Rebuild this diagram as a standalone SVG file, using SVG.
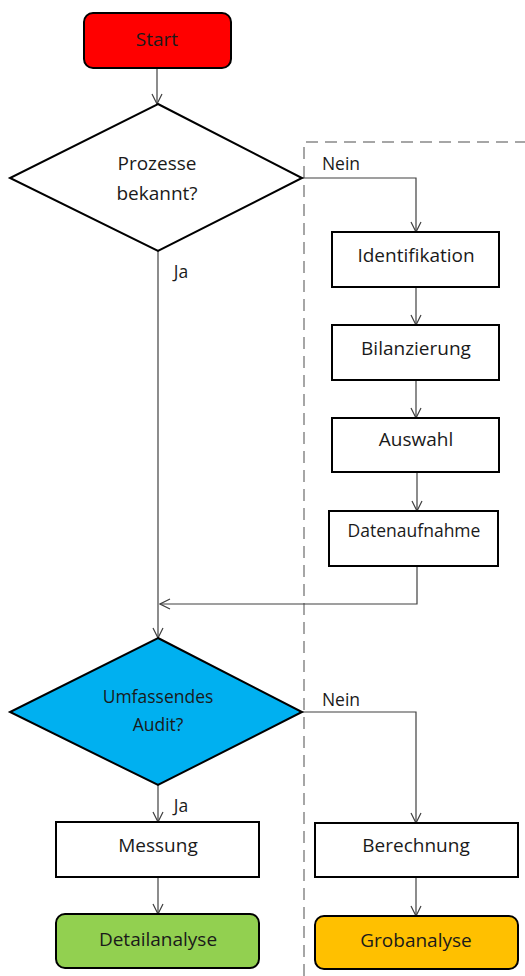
<svg xmlns="http://www.w3.org/2000/svg" width="525" height="976" viewBox="0 0 525 976">
<style>
.n{stroke:#000;stroke-width:2}
.t{font-family:"Open Sans","Liberation Sans",Arial,sans-serif;font-size:19px;fill:#1a1a1a;text-anchor:middle}
.s{font-size:17.5px}
.c{fill:none;stroke:#404040;stroke-width:1.2}
.d{fill:none;stroke:#a6a6a6;stroke-width:2;stroke-dasharray:12,7}
</style>
<defs>
<marker id="a" viewBox="0 0 12 12" refX="11" refY="6" markerWidth="12" markerHeight="12" markerUnits="userSpaceOnUse" orient="auto">
<path d="M1,1 L11,6 L1,11" fill="none" stroke="#404040" stroke-width="1.2"/>
</marker>
</defs>
<rect width="525" height="976" fill="#fff"/>
<path class="d" d="M304,976 V142 H525"/>
<g id="connectors">
<path class="c" marker-end="url(#a)" d="M157,68 V104"/>
<path class="c" marker-end="url(#a)" d="M302,178 H416 V232"/>
<path class="c" marker-end="url(#a)" d="M416,287 V325"/>
<path class="c" marker-end="url(#a)" d="M416,380 V418"/>
<path class="c" marker-end="url(#a)" d="M417,472 V511"/>
<path class="c" marker-end="url(#a)" d="M417,566 V604 H160"/>
<path class="c" marker-end="url(#a)" d="M158,251 V638"/>
<path class="c" marker-end="url(#a)" d="M302,712 H416 V823"/>
<path class="c" marker-end="url(#a)" d="M416,877 V916"/>
<path class="c" marker-end="url(#a)" d="M158,785 V822"/>
<path class="c" marker-end="url(#a)" d="M158,877 V914"/>
<text class="t s" x="341" y="170">Nein</text>
<text class="t s" x="181" y="278">Ja</text>
<text class="t s" x="341" y="706">Nein</text>
<text class="t s" x="181" y="812">Ja</text>
</g>
<g id="start"><rect class="n" x="84" y="13" width="147" height="55" rx="9" fill="#ff0000"/><text class="t" x="157" y="46">Start</text></g>
<g id="prozesse"><path class="n" d="M158,104 L302,178 L158,251 L10,178 Z" fill="#fff"/><text class="t" x="157" y="170">Prozesse</text><text class="t" x="157" y="200">bekannt?</text></g>
<g id="identifikation"><rect class="n" x="332" y="232" width="167" height="55" fill="#fff"/><text class="t" x="416" y="262">Identifikation</text></g>
<g id="bilanzierung"><rect class="n" x="332" y="325" width="167" height="55" fill="#fff"/><text class="t" x="416" y="355">Bilanzierung</text></g>
<g id="auswahl"><rect class="n" x="332" y="418" width="167" height="54" fill="#fff"/><text class="t" x="416" y="446">Auswahl</text></g>
<g id="datenaufnahme"><rect class="n" x="329" y="511" width="169" height="55" fill="#fff"/><text class="t s" x="414" y="537">Datenaufnahme</text></g>
<g id="audit"><path class="n" d="M158,638 L302,712 L158,785 L10,712 Z" fill="#00b0f0"/><text class="t s" x="158" y="703">Umfassendes</text><text class="t s" x="158" y="731">Audit?</text></g>
<g id="messung"><rect class="n" x="56" y="822" width="203" height="55" fill="#fff"/><text class="t" x="158" y="852">Messung</text></g>
<g id="detailanalyse"><rect class="n" x="56" y="914" width="203" height="54" rx="9" fill="#92d050"/><text class="t" x="158" y="946">Detailanalyse</text></g>
<g id="berechnung"><rect class="n" x="315" y="823" width="203" height="54" fill="#fff"/><text class="t" x="416" y="852">Berechnung</text></g>
<g id="grobanalyse"><rect class="n" x="315" y="916" width="203" height="53" rx="9" fill="#ffc000"/><text class="t" x="416" y="947">Grobanalyse</text></g>
</svg>
